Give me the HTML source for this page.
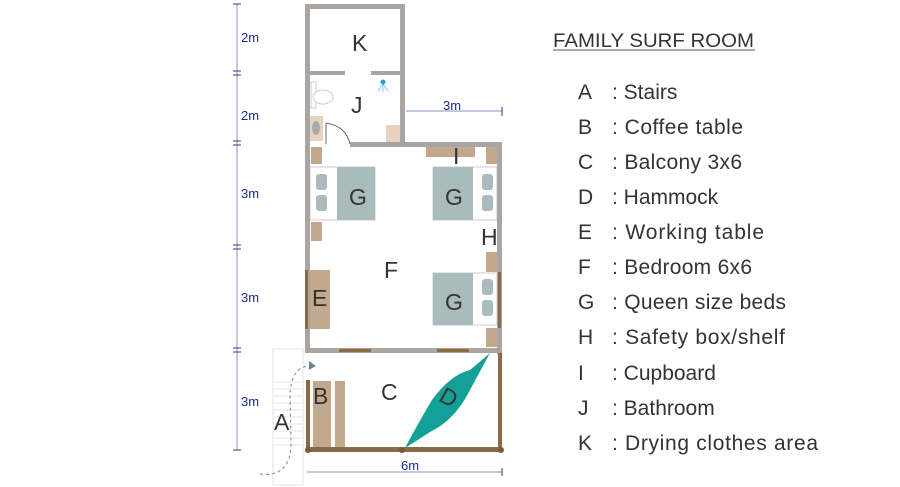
<!DOCTYPE html>
<html><head><meta charset="utf-8"><style>
html,body{margin:0;padding:0;background:#fff;width:900px;height:487px;overflow:hidden}
svg{display:block}
.t{font-family:"Liberation Sans",sans-serif;fill:#333}
</style></head><body>
<svg width="900" height="487" viewBox="0 0 900 487" xmlns="http://www.w3.org/2000/svg">
<g stroke="#2a3a8a" stroke-width="1" fill="#2a3a8a">
<line x1="237" y1="4" x2="237" y2="450" stroke="#8890c0"/>
<g stroke="#2a3a8a">
<line x1="233" y1="4" x2="241" y2="4"/><line x1="233" y1="71" x2="241" y2="71"/>
<line x1="233" y1="75" x2="241" y2="75"/><line x1="233" y1="141" x2="241" y2="141"/>
<line x1="233" y1="145" x2="241" y2="145"/><line x1="233" y1="245" x2="241" y2="245"/>
<line x1="233" y1="249" x2="241" y2="249"/><line x1="233" y1="348" x2="241" y2="348"/>
<line x1="233" y1="352" x2="241" y2="352"/><line x1="233" y1="450" x2="241" y2="450"/>
<line x1="406" y1="111" x2="502" y2="111" stroke="#8890c0"/>
<line x1="502" y1="107" x2="502" y2="116"/>
<line x1="307" y1="472" x2="502" y2="472" stroke="#8890c0"/>
<line x1="502" y1="468" x2="502" y2="476"/>
</g>
</g>
<g class="t" font-size="13" style="fill:#1a2a8a">
<text x="241" y="42">2m</text><text x="241" y="120">2m</text>
<text x="241" y="198">3m</text><text x="241" y="302">3m</text><text x="241" y="406">3m</text>
<text x="443" y="110">3m</text><text x="401" y="470">6m</text>
</g>
<g stroke="#e4e4e4" stroke-width="1" fill="none">
<rect x="273" y="349" width="30" height="136"/>
<line x1="273" y1="382" x2="303" y2="382"/><line x1="273" y1="389" x2="303" y2="389"/>
<line x1="273" y1="396" x2="303" y2="396"/><line x1="273" y1="403" x2="303" y2="403"/>
<line x1="273" y1="410" x2="303" y2="410"/><line x1="273" y1="417" x2="303" y2="417"/>
<line x1="273" y1="424" x2="303" y2="424"/><line x1="273" y1="431" x2="303" y2="431"/>
<line x1="273" y1="438" x2="303" y2="438"/><line x1="273" y1="445" x2="303" y2="445"/>
</g>
<path d="M260 474 Q292 478 291 440 L290 395 Q291 368 308 366" stroke="#889aa4" stroke-width="1.2" stroke-dasharray="3,3" fill="none"/>
<polygon points="309,361 316,366 309,370" fill="#6d8791"/>
<rect x="306" y="5" width="98" height="140" fill="#fff"/>
<g fill="#c2a98e">
<rect x="311" y="147" width="11" height="17"/><rect x="311" y="222" width="11" height="19"/>
<rect x="426" y="147" width="49" height="10"/><rect x="486" y="147" width="12" height="17"/>
<rect x="486" y="252" width="12" height="20"/><rect x="486" y="328" width="12" height="19"/>
<rect x="310" y="270" width="20" height="59"/>
<rect x="313" y="381" width="18" height="66"/><rect x="335" y="381" width="10" height="66"/>
<rect x="386" y="125" width="14" height="17" fill="#e6d3bf"/>
<rect x="310" y="116" width="13" height="25" fill="#e6d3bf"/>
</g>
<ellipse cx="316" cy="128" rx="4" ry="7" fill="#aaa"/>
<g stroke="#ccc" fill="#fff" stroke-width="1">
<rect x="311" y="82" width="5" height="26"/><ellipse cx="323" cy="97" rx="10" ry="7"/>
</g>
<circle cx="383" cy="82" r="2.5" fill="#2a9ad8"/>
<g stroke="#6ab4e0" stroke-width="0.7"><line x1="383" y1="84" x2="378" y2="91"/><line x1="383" y1="84" x2="383" y2="92"/><line x1="383" y1="84" x2="388" y2="91"/></g>
<path d="M326 123 Q346 126 350 144" stroke="#444" fill="none" stroke-width="0.8"/>
<line x1="326" y1="123" x2="326" y2="144" stroke="#444" stroke-width="0.8"/>
<g>
<rect x="310" y="167" width="65" height="53" fill="#fff" stroke="#ccc"/>
<rect x="337" y="167" width="38" height="53" fill="#aabbbd"/>
<rect x="316" y="174" width="11" height="16" rx="3" fill="#a9bbbd"/><rect x="316" y="195" width="11" height="16" rx="3" fill="#a9bbbd"/>
<rect x="433" y="167" width="64" height="53" fill="#fff" stroke="#ccc"/>
<rect x="433" y="167" width="40" height="53" fill="#aabbbd"/>
<rect x="482" y="174" width="11" height="16" rx="3" fill="#a9bbbd"/><rect x="482" y="195" width="11" height="16" rx="3" fill="#a9bbbd"/>
<rect x="433" y="273" width="64" height="52" fill="#fff" stroke="#ccc"/>
<rect x="433" y="273" width="40" height="52" fill="#aabbbd"/>
<rect x="482" y="279" width="11" height="16" rx="3" fill="#a9bbbd"/><rect x="482" y="300" width="11" height="16" rx="3" fill="#a9bbbd"/>
</g>
<g fill="#a8a5a2">
<rect x="305" y="4" width="100" height="5"/>
<rect x="305" y="4" width="5" height="349"/>
<rect x="400" y="4" width="5" height="143"/>
<rect x="305" y="71" width="40" height="4"/><rect x="371" y="71" width="34" height="4"/>
<rect x="350" y="142" width="152" height="5"/>
<rect x="497" y="142" width="5" height="212"/>
<rect x="305" y="348" width="197" height="5"/>
</g>
<g fill="#8b6a45">
<rect x="339" y="349" width="32" height="3"/><rect x="437" y="349" width="32" height="3"/>
<rect x="305" y="270" width="3" height="59"/><rect x="498" y="272" width="3" height="56"/>
<rect x="306" y="380" width="4" height="70"/>
<rect x="306" y="447" width="196" height="5"/>
<rect x="498" y="353" width="4" height="99"/>
</g>
<circle cx="308" cy="450" r="3" fill="#7a5a35"/><circle cx="402" cy="450" r="3" fill="#7a5a35"/><circle cx="501" cy="450" r="3" fill="#7a5a35"/>
<path d="M405 448 Q420 420 432 400 Q450 375 470 370 Q482 360 490 353 Q478 375 470 390 Q455 420 430 432 Q418 440 405 448Z" fill="#13a096"/>
<g class="t" font-size="23">
<text x="352" y="51">K</text><text x="351" y="113">J</text>
<text x="349" y="205">G</text><text x="445" y="205">G</text><text x="445" y="310">G</text>
<text x="453" y="164">I</text><text x="481" y="245">H</text>
<text x="384" y="278">F</text><text x="312" y="306">E</text>
<text x="313" y="404">B</text><text x="381" y="400">C</text><text x="274" y="430">A</text>
<text x="440" y="405" transform="rotate(30 448 398)">D</text>
</g>
<g class="t" font-size="19">
<text x="553" y="47" textLength="201" lengthAdjust="spacingAndGlyphs">FAMILY SURF ROOM</text>
</g>
<line x1="553" y1="50" x2="755" y2="50" stroke="#777" stroke-width="1.2"/>
<g class="t" font-size="21">
<text x="578" y="99">A</text><text x="612" y="99">: Stairs</text>
<text x="578" y="134">B</text><text x="612" y="134" textLength="131">: Coffee table</text>
<text x="578" y="169">C</text><text x="612" y="169" textLength="130">: Balcony 3x6</text>
<text x="578" y="204">D</text><text x="612" y="204">: Hammock</text>
<text x="578" y="239">E</text><text x="612" y="239" textLength="152">: Working table</text>
<text x="578" y="274">F</text><text x="612" y="274" textLength="140">: Bedroom 6x6</text>
<text x="578" y="309">G</text><text x="612" y="309" textLength="174">: Queen size beds</text>
<text x="578" y="344">H</text><text x="612" y="344" textLength="173">: Safety box/shelf</text>
<text x="578" y="380">I</text><text x="612" y="380">: Cupboard</text>
<text x="578" y="415">J</text><text x="612" y="415">: Bathroom</text>
<text x="578" y="450">K</text><text x="612" y="450" textLength="206">: Drying clothes area</text>
</g>
</svg>
</body></html>
